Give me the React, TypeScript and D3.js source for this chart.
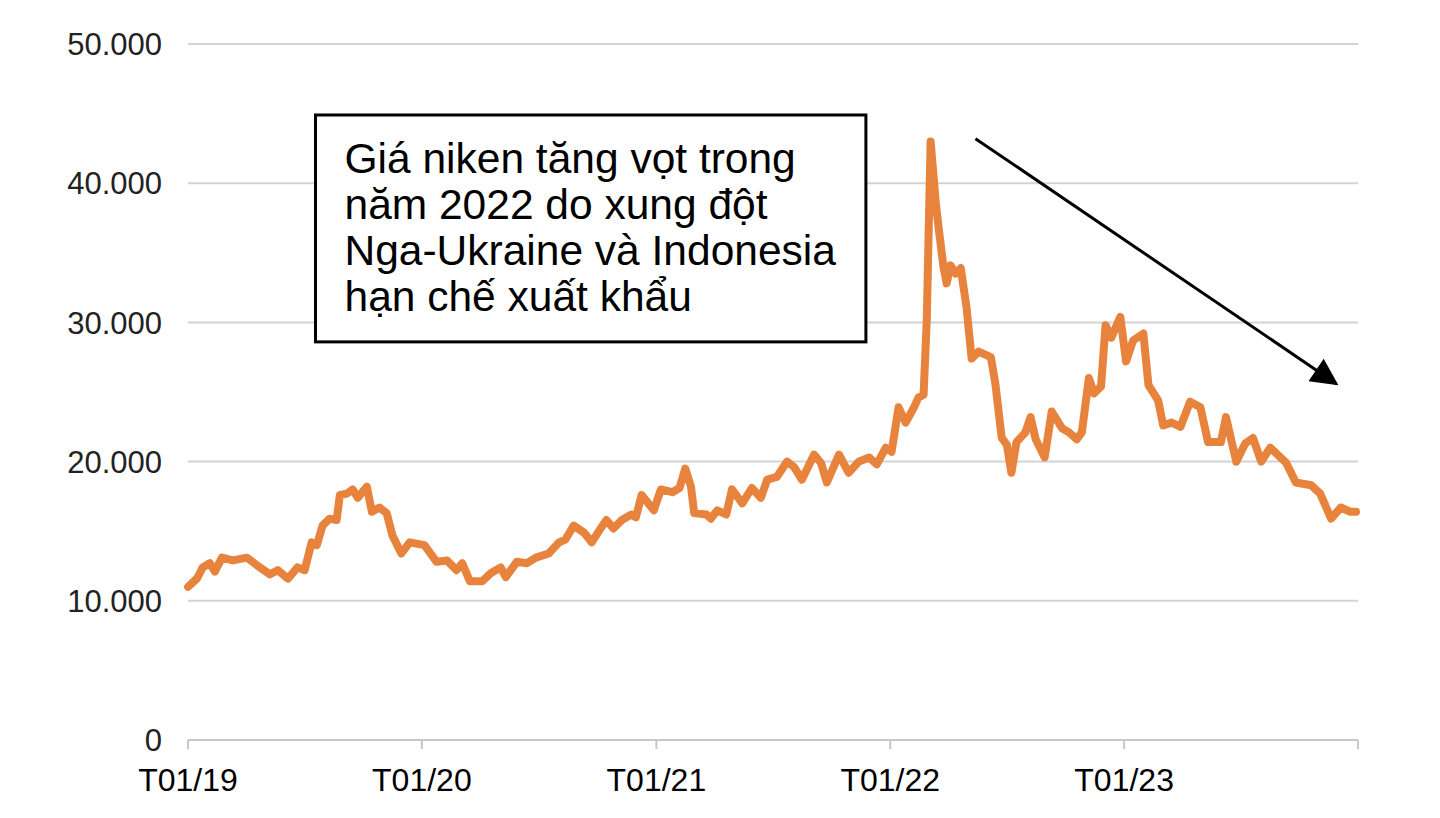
import React, { useEffect, useRef } from "react";
import * as d3 from "d3";

// weekly-ish LME nickel price, USD/tonne
const dates: string[] = [
  "2019-01-01", "2019-01-15", "2019-01-24", "2019-02-04", "2019-02-12", "2019-02-23", "2019-03-12", "2019-04-03",
  "2019-04-23", "2019-05-09", "2019-05-21", "2019-06-06", "2019-06-21", "2019-07-02", "2019-07-13", "2019-07-21",
  "2019-07-30", "2019-08-10", "2019-08-21", "2019-08-26", "2019-09-06", "2019-09-15", "2019-09-23", "2019-10-07",
  "2019-10-15", "2019-10-27", "2019-11-07", "2019-11-16", "2019-11-30", "2019-12-13", "2020-01-05", "2020-01-24",
  "2020-02-09", "2020-02-24", "2020-03-04", "2020-03-16", "2020-04-04", "2020-04-18", "2020-05-03", "2020-05-11",
  "2020-05-28", "2020-06-13", "2020-06-27", "2020-07-17", "2020-08-02", "2020-08-12", "2020-08-25", "2020-09-10",
  "2020-09-22", "2020-10-06", "2020-10-15", "2020-10-26", "2020-11-08", "2020-11-23", "2020-11-30", "2020-12-09",
  "2020-12-28", "2021-01-08", "2021-01-26", "2021-02-06", "2021-02-15", "2021-02-24", "2021-03-01", "2021-03-20",
  "2021-03-27", "2021-04-06", "2021-04-20", "2021-04-29", "2021-05-15", "2021-05-30", "2021-06-13", "2021-06-23",
  "2021-07-08", "2021-07-24", "2021-08-04", "2021-08-16", "2021-09-04", "2021-09-15", "2021-09-24", "2021-10-13",
  "2021-10-28", "2021-11-13", "2021-11-29", "2021-12-11", "2021-12-25", "2022-01-03", "2022-01-14", "2022-01-25",
  "2022-02-07", "2022-02-14", "2022-02-22", "2022-02-27", "2022-03-05", "2022-03-13", "2022-03-18", "2022-03-25",
  "2022-03-30", "2022-04-05", "2022-04-13", "2022-04-21", "2022-04-30", "2022-05-08", "2022-05-19", "2022-06-07",
  "2022-06-14", "2022-06-24", "2022-07-02", "2022-07-09", "2022-07-17", "2022-07-31", "2022-08-08", "2022-08-16",
  "2022-08-30", "2022-09-10", "2022-09-26", "2022-10-07", "2022-10-19", "2022-10-27", "2022-11-07", "2022-11-15",
  "2022-11-26", "2022-12-03", "2022-12-12", "2022-12-26", "2023-01-04", "2023-01-15", "2023-01-31", "2023-02-08",
  "2023-02-23", "2023-03-03", "2023-03-16", "2023-03-30", "2023-04-14", "2023-04-30", "2023-05-12", "2023-06-01",
  "2023-06-09", "2023-06-25", "2023-07-09", "2023-07-21", "2023-08-03", "2023-08-17", "2023-09-02", "2023-09-11",
  "2023-09-26", "2023-10-20", "2023-11-03", "2023-11-20", "2023-12-05", "2023-12-20", "2023-12-29",
];

const prices: number[] = [
  11000, 11600, 12400, 12700, 12100, 13100, 12900, 13100,
  12400, 11900, 12200, 11600, 12400, 12200, 14200, 14000,
  15400, 15900, 15800, 17600, 17700, 18000, 17400, 18200,
  16400, 16700, 16300, 14700, 13400, 14200, 14000, 12800,
  12900, 12200, 12700, 11400, 11400, 12000, 12400, 11700,
  12800, 12700, 13100, 13400, 14200, 14400, 15400, 14900,
  14200, 15200, 15800, 15200, 15800, 16200, 16000, 17600,
  16500, 18000, 17800, 18100, 19500, 18200, 16300, 16200,
  15900, 16500, 16200, 18000, 17000, 18100, 17400, 18700,
  18900, 20000, 19600, 18700, 20500, 19900, 18500, 20500,
  19200, 20000, 20300, 19800, 21000, 20700, 23900, 22800,
  23900, 24600, 24800, 30200, 43000, 38600, 36600, 34000,
  32800, 34100, 33500, 33900, 31100, 27400, 27900, 27500,
  25600, 21700, 21200, 19200, 21400, 22100, 23200, 21600,
  20300, 23600, 22400, 22100, 21600, 22100, 26000, 24900,
  25400, 29800, 28900, 30400, 27200, 28700, 29200, 25500,
  24400, 22600, 22800, 22500, 24300, 23900, 21400, 21400,
  23200, 20000, 21300, 21700, 20000, 21000, 20300, 19900,
  18500, 18300, 17700, 15900, 16700, 16400, 16400,
];

const yTicks: number[] = [0, 10000, 20000, 30000, 40000, 50000];
const xTickDates: string[] = ["2019-01-01", "2020-01-01", "2021-01-01", "2022-01-01", "2023-01-01", "2024-01-01"];
const xTickLabels: string[] = ["T01/19", "T01/20", "T01/21", "T01/22", "T01/23", ""];

const noteLines: string[] = [
  "Giá niken tăng vọt trong",
  "năm 2022 do xung đột",
  "Nga-Ukraine và Indonesia",
  "hạn chế xuất khẩu",
];
// note box corners and trend arrow, in data space
const noteBox = { from: "2019-07-19", to: "2021-11-24", top: 44900, bottom: 28600 };
const trendArrow = { from: "2022-05-14", fromVal: 43200, to: "2023-11-28", toVal: 25600 };

const W = 1440;
const H = 818;
const parse = d3.utcParse("%Y-%m-%d");
const fmt = d3.formatLocale({ decimal: ",", thousands: ".", grouping: [3], currency: ["", ""] }).format(",.0f");
const FONT = "Liberation Sans, Arial, sans-serif";

export default function App() {
  const ref = useRef<SVGSVGElement>(null);

  useEffect(() => {
    if (!ref.current) return;
    const svg = d3.select(ref.current);
    svg.selectAll("*").remove();

    const x = d3
      .scaleUtc()
      .domain([parse("2019-01-01")!, parse("2024-01-01")!])
      .range([188, 1358]);
    const y = d3.scaleLinear().domain([0, 50000]).range([740, 44]);

    svg.append("rect").attr("width", W).attr("height", H).attr("fill", "#fff");

    // gridlines
    svg
      .append("g")
      .selectAll("line")
      .data(yTicks.filter((t) => t > 0))
      .join("line")
      .attr("x1", x.range()[0])
      .attr("x2", x.range()[1])
      .attr("y1", (d) => y(d))
      .attr("y2", (d) => y(d))
      .attr("stroke", "#d3d3d3")
      .attr("stroke-width", 2);

    // y labels
    svg
      .append("g")
      .selectAll("text")
      .data(yTicks)
      .join("text")
      .attr("x", 162)
      .attr("y", (d) => y(d))
      .attr("dy", "0.36em")
      .attr("text-anchor", "end")
      .attr("font-family", FONT)
      .attr("font-size", 31)
      .attr("fill", "#222")
      .text((d) => fmt(d));

    // x axis
    const xAxis = svg.append("g");
    xAxis
      .append("line")
      .attr("x1", x.range()[0])
      .attr("x2", x.range()[1])
      .attr("y1", y(0))
      .attr("y2", y(0))
      .attr("stroke", "#c8c8c8")
      .attr("stroke-width", 2);
    xAxis
      .selectAll("line.tick")
      .data(xTickDates)
      .join("line")
      .attr("class", "tick")
      .attr("x1", (d) => x(parse(d)!))
      .attr("x2", (d) => x(parse(d)!))
      .attr("y1", y(0))
      .attr("y2", y(0) + 9)
      .attr("stroke", "#c8c8c8")
      .attr("stroke-width", 2);
    xAxis
      .selectAll("text")
      .data(xTickDates)
      .join("text")
      .attr("x", (d) => x(parse(d)!))
      .attr("y", 791)
      .attr("text-anchor", "middle")
      .attr("font-family", FONT)
      .attr("font-size", 32)
      .attr("fill", "#000")
      .text((_, i) => xTickLabels[i]);

    // price line
    const pts = dates.map((d, i) => ({ date: parse(d)!, v: prices[i] }));
    const line = d3
      .line<{ date: Date; v: number }>()
      .x((d) => x(d.date))
      .y((d) => y(d.v));
    svg
      .append("path")
      .datum(pts)
      .attr("d", line)
      .attr("fill", "none")
      .attr("stroke", "#e8833e")
      .attr("stroke-width", 8)
      .attr("stroke-linejoin", "round")
      .attr("stroke-linecap", "round");

    // note box
    const bx0 = x(parse(noteBox.from)!);
    const bx1 = x(parse(noteBox.to)!);
    const by0 = y(noteBox.top);
    const by1 = y(noteBox.bottom);
    svg
      .append("rect")
      .attr("x", bx0)
      .attr("y", by0)
      .attr("width", bx1 - bx0)
      .attr("height", by1 - by0)
      .attr("fill", "#fff")
      .attr("stroke", "#000")
      .attr("stroke-width", 3);
    svg
      .append("g")
      .selectAll("text")
      .data(noteLines)
      .join("text")
      .attr("x", bx0 + 29)
      .attr("y", (_, i) => by0 + 58 + i * 46)
      .attr("font-family", FONT)
      .attr("font-size", 42.5)
      .attr("fill", "#000")
      .text((d) => d);

    // trend arrow
    svg
      .append("defs")
      .append("marker")
      .attr("id", "head")
      .attr("viewBox", "0 0 10 10")
      .attr("refX", 9)
      .attr("refY", 5)
      .attr("markerWidth", 10)
      .attr("markerHeight", 9)
      .attr("markerUnits", "strokeWidth")
      .attr("orient", "auto")
      .append("path")
      .attr("d", "M0,0L10,5L0,10Z")
      .attr("fill", "#000");
    svg
      .append("line")
      .attr("x1", x(parse(trendArrow.from)!))
      .attr("y1", y(trendArrow.fromVal))
      .attr("x2", x(parse(trendArrow.to)!))
      .attr("y2", y(trendArrow.toVal))
      .attr("stroke", "#000")
      .attr("stroke-width", 3)
      .attr("marker-end", "url(#head)");
  }, []);

  return (
    <div style={{ position: "absolute", left: 0, top: 0 }}>
      <svg ref={ref} width={W} height={H} style={{ display: "block" }} />
    </div>
  );
}
